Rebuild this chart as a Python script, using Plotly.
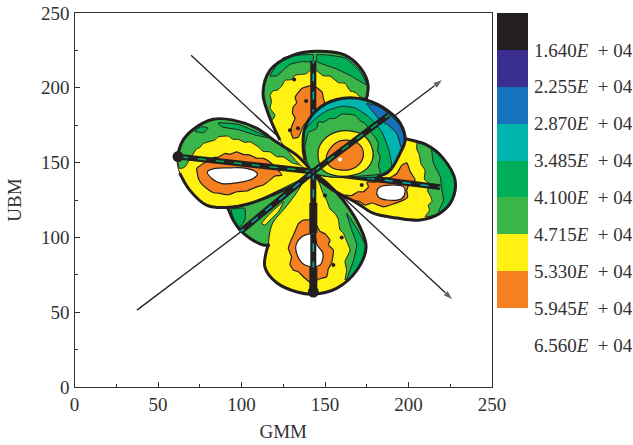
import plotly.graph_objects as go

BLACK = "#231F20"; PURPLE = "#3B2E91"; BLUE = "#1672BA"; TEAL = "#00B5AD"
DGREEN = "#00AE58"; MGREEN = "#39B54A"; YELLOW = "#FFF212"; ORANGE = "#F58021"; WHITE = "#FFFFFF"

# colour legend
LEVELS = [10250, 16400, 22550, 28700, 34850, 41000, 47150, 53300, 59450, 65600]
LEVEL_LABELS = ["1.640", "2.255", "2.870", "3.485", "4.100", "4.715", "5.330", "5.945", "6.560"]
LEVEL_COLORS = [BLACK, PURPLE, BLUE, TEAL, DGREEN, MGREEN, YELLOW, ORANGE, WHITE]

# guide lines (GMM, UBM)
GUIDE_A = [(69.8, 221.8), (226.7, 58.1)]
GUIDE_B = [(37.4, 51.4), (220.7, 205.7)]

# South-west lobe
SW_BASE = [(92, 119.6), (106.3, 123), (135, 138.3), (141, 139.6), (136.3, 133.6), (127, 120.2), (120, 110),
           (117, 102.7), (119, 94.9), (112.9, 94.9), (105, 99.5), (99.1, 105), (95, 111.6)]
SW_EDGE = [(91, 120.5), (92, 119), (95, 111.6), (99.1, 105), (105, 99.5), (112.9, 94.9), (117, 95)]
SW_DARK = [(94, 118.7), (102, 119.4), (102, 111.6), (98, 106), (95, 112.7)]

# South lobe
S_OUTER = [(116, 94.9), (114, 80.2), (121.3, 69.5), (133.3, 63.5), (142.9, 62.1), (157.2, 66.1), (169.2, 78.2),
           (174.6, 93.5), (171, 106.9), (160.8, 124.9), (151.2, 136.3), (142.9, 143), (138, 138.3), (132, 128.2),
           (126, 119.6), (119, 110.2), (117, 103.6)]
S_MID = [(145, 140.5), (151.2, 136.3), (160.8, 124.9), (171, 106.9), (174.6, 93.5), (169.2, 78.2), (162, 71.5),
         (163, 78), (162, 84), (165, 91.5), (163.5, 96), (161, 102.7), (159, 105), (158, 112), (156, 116),
         (153, 119), (151, 125), (149, 129), (147, 135)]
S_DARK = [(163, 116), (169, 106), (174.6, 93.5), (172, 83.5), (169, 78), (163, 71.5), (166.8, 83.5), (169, 95), (166, 105)]
S_ORANGE = [(137, 111.6), (134, 109), (132, 103.7), (130, 99), (128, 92.7), (130, 87), (129, 82), (131, 78.2), (134, 77),
            (137, 73.7), (142, 69.5), (146, 72), (151, 73.7), (152, 79), (154, 83), (155, 91.5), (152, 95), (153, 98),
            (150, 102.5), (147, 104), (145, 108), (141, 111.6)]
S_WHITE = [(138, 101.5), (133, 96), (133, 89.4), (138, 81.5), (147, 81.5), (148.7, 89.5), (145.3, 94.9), (143.5, 101.5)]
S_WEDGE = [(112.1, 109.4), (117.1, 116), (125.1, 123.8), (122.1, 117.1), (117.1, 111.6), (114, 108.2)]

# West lobe
W_OUTER = [(61.4, 153.6), (65, 165), (72, 173), (83, 179), (95, 178.4), (109, 173), (121, 163.7), (133, 155), (141, 146),
           (143, 144), (139, 139.6), (106, 123), (91, 120), (79, 121.6), (69, 131.6), (63, 143)]
W_MID = [(61.4, 153.6), (65, 165), (72, 173), (83, 179), (95, 178.4), (109, 173), (121, 163.7), (133, 155), (141, 146),
         (135.1, 148.3), (130, 150), (125.1, 153.8), (121, 154), (117.1, 157.2), (113, 157.5), (110.1, 160.5), (105.1, 163.9), (102, 163.5),
         (98.1, 165.5), (95, 165.5), (92.1, 167.7), (86.1, 167.2), (84, 165), (82.2, 164.5), (77.2, 162.8), (75, 160), (73.2, 159.4), (70.2, 154.3),
         (66, 147), (63, 146)]
W_DARK_A = [(72, 171), (76, 174), (80, 173), (77, 170)]
W_DARK_B = [(86, 176.5), (98, 175.5), (110, 170), (117, 166.5), (108, 168.5), (98, 172), (88, 174)]
W_ORANGE = [(73.2, 146.1), (77.2, 149.4), (83.1, 153.4), (86, 153.5), (90.1, 156.1), (93, 155.5), (97.1, 157.2), (101, 155.5), (105.1, 155), (109, 153), (113.1, 152.8),
            (118.1, 149.4), (121.1, 146.1), (124.1, 141.6), (120, 141), (117.1, 138.3), (113, 135), (109.1, 133.8), (103, 131), (97.1, 130.5),
            (92, 128.5), (87.2, 129.4), (83, 130), (79.2, 132.7), (76, 136), (74.2, 139.4)]
W_WHITE = [(79.6, 143.8), (84.2, 146.1), (93.1, 146.5), (103.1, 146.1), (109.5, 142.7), (107.1, 139.4), (97.1, 136.5), (88.2, 136), (82.2, 139.4)]

# North lobe
N_OUTER = [(123, 165), (115.9, 183), (112.9, 196.4), (117.1, 211.8), (130.9, 221.8), (145.3, 224.4), (162, 221.8),
           (172.2, 211.8), (175.8, 201.7), (174.6, 191.7), (160, 178), (143, 144)]
N_MID = [(118.3, 178.4), (115.9, 183), (112.9, 196.4), (117.1, 211.8), (130.9, 221.8), (145.3, 224.4), (162, 221.8),
         (172.2, 211.8), (175.8, 201.7), (174.6, 193), (171, 194), (168, 197), (165, 198), (162, 203), (158, 203.5), (153, 207.8),
         (149, 208), (144.6, 211.8), (142.3, 213), (139, 209.5), (136, 209), (132.1, 208.4), (130, 205.5), (126.1, 205), (124, 201),
         (121.3, 198.4), (119, 198), (117.1, 195), (118, 191), (117.1, 186.4), (120.1, 181.7)]
N_DARK_A = [(117, 208), (125, 220), (143, 222), (142.5, 217.5), (136, 217.5), (129, 215.6), (121, 208)]
N_DARK_B = [(145, 222), (162, 220), (171, 211), (175, 202), (165.5, 208), (156, 213), (145.3, 217.5)]
N_ORANGE = [(142.9, 201.7), (148.3, 197), (149, 193), (150, 188.4), (147.5, 186), (145.9, 181.7), (141, 177), (138.5, 176.5),
            (136.3, 173), (135, 169), (133.9, 167), (130.9, 166.3), (129.5, 171), (130.3, 175), (132.1, 179.7), (130.5, 183),
            (130.9, 187), (133, 190), (132.1, 193.7), (136.3, 199.7)]

# East lobe
E_OUTER = [(192, 168), (199.2, 165.7), (211.1, 161.7), (220.7, 153), (227.9, 138.3), (226.1, 124.9), (218.9, 116.2), (206.9, 111.6),
           (193.2, 112.9), (178.8, 116.2), (169.2, 122.9), (154.8, 131.6), (144, 141), (159, 145), (183, 155)]
E_MID = [(205.3, 163.8), (211.1, 161.7), (220.7, 153), (227.9, 138.3), (226.1, 124.9), (218.9, 116.2), (209.9, 113.6),
         (212.5, 118), (211.9, 121.6), (214, 124), (213.4, 127.1), (211.5, 131), (212, 136), (209.5, 139), (209.9, 145),
         (207.5, 149), (206.5, 155), (205, 159)]
E_DARK = [(214, 160), (220.7, 153), (227.9, 138.3), (226.1, 124.9), (218.9, 116.2), (218, 117), (221, 125), (220, 131.6), (219, 140.5), (215, 149.4)]
E_ORANGE = [(199, 149.8), (201, 144), (204, 138.3), (200.5, 135.5), (199, 131.6), (199.5, 127), (196.9, 124.9), (190, 122), (185, 120.4),
            (178, 123), (174, 121.5), (171, 123.8), (166, 125), (162, 128.3), (166, 128), (169.8, 130.5), (173, 130.5), (176, 133.8), (175, 137),
            (180, 137), (184.8, 139.6), (189, 140), (193, 142.7), (196, 148.3)]
E_WHITE = [(181, 130.5), (183, 133.8), (189, 135), (197, 133.8), (198, 130.5), (196, 126), (187, 125), (182, 127)]

# North-east lobe (on top)
NE_OUTER = [(143, 143), (138, 151.6), (136.9, 160.3), (138.1, 173.7), (147.1, 187), (161, 193), (175.2, 191.7), (187.2, 185),
            (195, 176.4), (198, 165), (195, 156.4), (189, 145), (181.2, 140.3), (168, 140.3), (155, 140.3)]
NE_BLUE = [(175, 189.5), (183, 187), (189, 181.7), (195, 175), (198, 165), (196, 159.4), (193, 169.5), (188, 175), (183, 178.4), (178, 185)]
NE_DARK = [(138, 171.7), (144, 179.1), (151, 184.6), (160, 187.7), (168, 186.5), (176, 180.8), (184, 170.5), (188, 159.4),
           (190, 147.3), (188, 142.8), (181, 140.3), (155, 140.3), (143, 143), (138, 151.6), (136.9, 160.3)]
NE_MID = [(145, 172.8), (146, 177.2), (149, 177), (153, 179.5), (156, 179.5), (160, 182.4), (168, 181.7), (171, 178), (174, 176.2), (178, 169.4), (180, 167),
          (182, 162.8), (181.5, 158), (183, 153.8), (182, 148), (183, 142.7), (155, 140.3), (143, 143), (139, 151.6), (138, 160), (140, 170)]
NE_YELLOW = [(146, 158.3), (150, 166), (157, 170.5), (165, 171.2), (173, 168.3), (178, 160.5), (178.6, 152.8), (175, 146),
             (167, 141.6), (155, 141.6), (148, 146)]
NE_ORANGE = [(151, 155), (156, 162.8), (163, 165), (171, 161.7), (173, 155), (170, 148.3), (165, 145.3), (155, 146.1), (151, 150.5)]

# Spokes from the centre out to each lobe
HUB = (143, 144)
SPOKE_TIPS = {"W": (62, 154), "N": (143, 218), "E": (219, 133.6), "S": (143, 63.5), "SW": (99.5, 104), "NE": (188, 181.7)}
SPOKE_COLORS = {"W": DGREEN, "N": TEAL, "E": TEAL, "S": TEAL, "SW": TEAL, "NE": DGREEN}
TIP_DOTS = [(62, 154), (143, 63.5)]
S_HEAVY_A = [(143, 123), (143, 103)]
S_HEAVY_B = [(143, 80), (143, 65)]
SPECKS_BLACK = [(131.5, 205.5), (138.7, 191.2), (129, 171.7), (133.8, 173), (155, 81.5), (172, 135), (160, 100), (150, 128)]
SPECK_WHITE = [(159, 152)]

LOWER_LAYERS = [
    (W_OUTER, YELLOW, 1.0), (W_MID, MGREEN, 1.0), (W_DARK_A, DGREEN, 1.0), (W_DARK_B, DGREEN, 1.0), (W_ORANGE, ORANGE, 1.2), (W_WHITE, WHITE, 1.2),
    (SW_BASE, MGREEN, 1.0), (SW_DARK, DGREEN, 1.0),
    (S_OUTER, YELLOW, 1.0), (S_MID, MGREEN, 1.0), (S_DARK, DGREEN, 1.0), (S_ORANGE, ORANGE, 1.2), (S_WHITE, WHITE, 1.2),
    (S_WEDGE, YELLOW, 1.0),
    (N_OUTER, YELLOW, 1.0), (N_MID, MGREEN, 1.0), (N_DARK_A, DGREEN, 1.0), (N_DARK_B, DGREEN, 1.0), (N_ORANGE, ORANGE, 1.2),
    (E_OUTER, YELLOW, 1.0), (E_MID, MGREEN, 1.0), (E_DARK, DGREEN, 1.0), (E_ORANGE, ORANGE, 1.2), (E_WHITE, WHITE, 1.2),
]
UPPER_LAYERS = [
    (NE_OUTER, TEAL, 1.0), (NE_BLUE, BLUE, 1.0), (NE_DARK, DGREEN, 1.0), (NE_MID, MGREEN, 1.0), (NE_YELLOW, YELLOW, 1.2), (NE_ORANGE, ORANGE, 1.2),
]
OUTLINES_LOW = [SW_EDGE, S_OUTER[:12], W_OUTER, N_OUTER[:10], E_OUTER[:13]]
OUTLINES_HIGH = [NE_OUTER[1:13]]
ROUND = {id(S_OUTER), id(W_OUTER), id(N_OUTER), id(E_OUTER), id(NE_OUTER), id(NE_YELLOW), id(NE_ORANGE), id(E_WHITE), id(S_WHITE), id(W_WHITE)}


def xs(p):
    return [a for a, _ in p]


def ys(p):
    return [b for _, b in p]


fig = go.Figure()


def guide(p):
    fig.add_trace(go.Scatter(x=xs(p), y=ys(p), mode="lines+markers", line=dict(color=BLACK, width=1.3),
                             marker=dict(symbol="arrow", angleref="previous", size=[0, 11], color=BLACK),
                             hoverinfo="skip", showlegend=False))


def band(p, color, lw):
    smooth = 1.0 if id(p) in ROUND else 0.45
    fig.add_trace(go.Scatter(x=xs(p) + xs(p)[:1], y=ys(p) + ys(p)[:1], mode="lines", fill="toself", fillcolor=color,
                             line=dict(color=BLACK, width=lw, shape="spline", smoothing=smooth),
                             hoverinfo="skip", showlegend=False))


def outline(p):
    fig.add_trace(go.Scatter(x=xs(p), y=ys(p), mode="lines", line=dict(color=BLACK, width=3.0, shape="spline", smoothing=1.0),
                             hoverinfo="skip", showlegend=False))


def heavy(p, width):
    fig.add_trace(go.Scatter(x=xs(p), y=ys(p), mode="lines", line=dict(color=BLACK, width=width), hoverinfo="skip", showlegend=False))


def spoke(tip, color):
    p = [HUB, tip]
    heavy(p, 6)
    fig.add_trace(go.Scatter(x=xs(p), y=ys(p), mode="lines", line=dict(color=color, width=1.5, dash="8px,10px"),
                             hoverinfo="skip", showlegend=False))


def dots(p, color, size):
    fig.add_trace(go.Scatter(x=xs(p), y=ys(p), mode="markers", marker=dict(color=color, size=size), hoverinfo="skip", showlegend=False))


guide(GUIDE_A)
guide(GUIDE_B)
for p, c, w in LOWER_LAYERS:
    band(p, c, w)
dots(SPECKS_BLACK, BLACK, 4)
for p in OUTLINES_LOW:
    outline(p)
for name in ("W", "N", "E", "S", "SW"):
    spoke(SPOKE_TIPS[name], SPOKE_COLORS[name])
heavy(S_HEAVY_A, 8)
heavy(S_HEAVY_B, 8)
for p, c, w in UPPER_LAYERS:
    band(p, c, w)
for p in OUTLINES_HIGH:
    outline(p)
spoke(SPOKE_TIPS["NE"], SPOKE_COLORS["NE"])
dots(TIP_DOTS, BLACK, 11)
dots(SPECK_WHITE, WHITE, 4)
fig.add_trace(go.Scatter(x=[HUB[0]], y=[HUB[1]], mode="markers", marker=dict(color=PURPLE, size=5, line=dict(color=BLACK, width=2)),
                         hoverinfo="skip", showlegend=False))

# Legend as a one-column heatmap on its own axes
n = len(LEVEL_COLORS)
scale = []
for i, c in enumerate(LEVEL_COLORS):
    scale += [[i / n, c], [(i + 1) / n, c]]
fig.add_trace(go.Heatmap(x=[0, 1], y=LEVELS, z=[[i] for i in range(n)], zmin=0, zmax=n, colorscale=scale, showscale=False,
                         hoverinfo="skip", xaxis="x2", yaxis="y2"))

FONT = "Liberation Serif"
INK = "#333132"
W, H = 633, 445
axis = dict(automargin=False, showline=True, mirror=True, linecolor=INK, linewidth=1.4, ticks="inside", ticklen=5, tickwidth=1.2, tickcolor=INK,
            showgrid=False, zeroline=False, tickfont=dict(family=FONT, size=19, color=INK),
            minor=dict(ticks="inside", ticklen=3, tickwidth=1, tickcolor=INK, dtick=25, showgrid=False))
fig.update_layout(
    width=W, height=H, margin=dict(l=0, r=0, t=0, b=0, autoexpand=False), paper_bgcolor="white", plot_bgcolor="white", showlegend=False,
    xaxis=dict(axis, domain=[74.5 / W, 492 / W], range=[0, 250], dtick=50, tick0=0,
               title=dict(text="GMM", font=dict(family=FONT, size=19, color=INK), standoff=10)),
    yaxis=dict(axis, domain=[1 - 387 / H, 1 - 13 / H], range=[0, 250], dtick=50, tick0=0,
               title=dict(text="UBM", font=dict(family=FONT, size=19, color=INK), standoff=14)),
    xaxis2=dict(automargin=False, domain=[497 / W, 528 / W], range=[0, 1], visible=False, anchor="y2"),
    yaxis2=dict(automargin=False, domain=[1 - 345 / H, 1 - 13 / H], range=[LEVELS[-1], LEVELS[0]], side="right", anchor="x2", showgrid=False, zeroline=False,
                showline=False, ticks="", tickvals=LEVELS[1:],
                ticktext=[s + "<i>E</i>&nbsp;&nbsp;+&nbsp;04" for s in LEVEL_LABELS],
                tickfont=dict(family=FONT, size=19, color=INK), ticklabelstandoff=5),
)
fig.write_html("out.html", config=dict(displayModeBar=False), post_script="document.body.style.margin='0';")
